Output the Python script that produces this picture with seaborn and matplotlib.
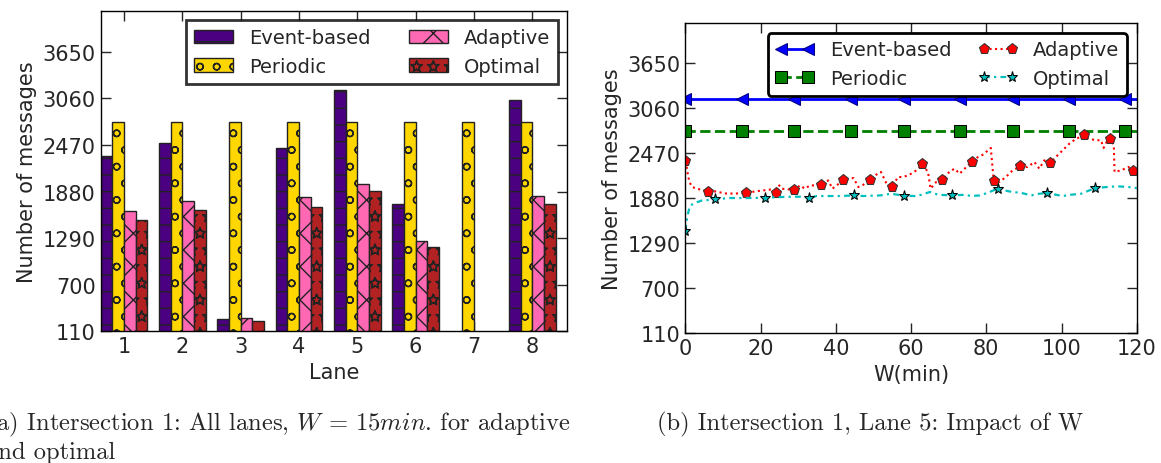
import numpy as np
import pandas as pd
import matplotlib
matplotlib.use("Agg")
import matplotlib.pyplot as plt
import matplotlib.hatch as mhatch
import seaborn as sns

# ---- data: left panel (all lanes) ----
lanes = [1, 2, 3, 4, 5, 6, 7, 8]
methods = ["Event-based", "Periodic", "Adaptive", "Optimal"]
event_lane = [2334, 2490, 262, 2431, 3170, 1726, 0, 3043]
periodic_lane = [2756, 2756, 2756, 2756, 2756, 2756, 2756, 2756]
adaptive_lane = [1638, 1760, 279, 1807, 1975, 1250, 0, 1828]
optimal_lane = [1520, 1650, 241, 1684, 1883, 1174, 0, 1718]

# ---- data: right panel (lane 5, impact of W) ----
w_flat = [0, 15, 29, 44, 58, 73, 87, 102, 117, 120]
event_w = [3170, 3170, 3170, 3170, 3170, 3170, 3170, 3170, 3170, 3170]
periodic_w = [2757, 2757, 2757, 2757, 2757, 2757, 2757, 2757, 2757, 2757]

w_adaptive = [0, 0.45, 0.7, 1.1, 1.8, 3.1, 4.9, 6.0, 8.0, 10.5, 13.0, 16.1,
              18.6, 20.8, 23.0, 24.1, 24.8, 25.6, 27.4, 29.0, 30.5, 31.8,
              33.1, 34.5, 36.1, 38.0, 39.1, 40.2, 42.0, 44.7, 46.0, 47.3,
              49.1, 50.4, 52.0, 53.5, 55.0, 56.5, 57.8, 59.2, 60.1, 61.4,
              63.0, 64.5, 65.2, 66.7, 68.1, 69.4, 70.3, 71.6, 72.9, 73.8,
              75.1, 76.1, 77.8, 79.1, 80.8, 81.2, 82.0, 83.5, 85.2, 87.0,
              89.0, 91.0, 92.8, 94.1, 95.4, 97.0, 98.5, 100.3, 102.1, 103.9,
              106.1, 107.2, 109.1, 110.5, 111.2, 112.0, 113.0, 113.9, 114.1,
              115.9, 117.8, 118.9, 120]
adaptive_w = [2360, 2264, 2176, 2090, 2024, 2002, 1980, 1955, 1967, 1940,
              1938, 1945, 1967, 1980, 1993, 1952, 2054, 2002, 1993, 1989,
              2045, 2002, 2045, 2045, 2045, 2111, 2002, 2045, 2111, 2142,
              2024, 2054, 2120, 2176, 2221, 2067, 2024, 2155, 2155, 2176,
              2200, 2241, 2320, 2221, 2002, 2090, 2111, 2176, 2229, 2264,
              2198, 2241, 2307, 2352, 2417, 2447, 2517, 2535, 2097, 2090,
              2155, 2241, 2294, 2286, 2352, 2264, 2373, 2339, 2417, 2504,
              2592, 2657, 2700, 2658, 2636, 2636, 2536, 2614, 2658, 2571,
              2221, 2243, 2286, 2238, 2256]
adaptive_marks = [0, 7, 11, 15, 19, 24, 28, 32, 36, 42, 46, 53, 58, 62, 67,
                  72, 78, 83]

w_optimal = [0, 0.45, 0.9, 1.3, 2.7, 4.4, 8.0, 11.5, 14.2, 17.7, 21.1, 25.6,
             28.3, 30.5, 33.0, 34.9, 38.0, 41.1, 44.9, 47.3, 51.8, 54.8,
             58.0, 61.0, 62.8, 65.0, 67.2, 71.0, 74.3, 76.0, 78.3, 80.4,
             83.0, 84.8, 87.0, 89.2, 91.9, 94.1, 96.1, 98.5, 100.3, 102.5,
             105.2, 107.4, 108.9, 112.0, 114.9, 117.8, 120]
optimal_w = [1455, 1608, 1717, 1783, 1818, 1848, 1861, 1880, 1880, 1880,
             1884, 1893, 1897, 1897, 1884, 1906, 1906, 1906, 1914, 1906,
             1914, 1936, 1910, 1906, 1923, 1959, 1923, 1914, 1923, 1906,
             1914, 1949, 2002, 1980, 1958, 1949, 1914, 1936, 1945, 1923,
             1906, 1923, 1936, 1980, 2010, 2024, 2033, 2024, 2010]
optimal_marks = [0, 6, 10, 14, 18, 22, 27, 32, 38, 44]

yticks = [110, 700, 1290, 1880, 2470, 3060, 3650]

sns.set_style("ticks")
plt.rcParams["font.family"] = ["DejaVu Sans"]
plt.rcParams["mathtext.fontset"] = "cm"

# hollow stars like the old hatch renderer
mhatch.Stars.filled = False

bar_colors = ["#4B0082", "#FFD700", "#FF69B4", "#B22222"]
hatches = ["-", "o", "x", "*"]

fig = plt.figure(figsize=(11.61, 4.64), dpi=100)
ax1 = fig.add_axes([0.0868, 0.2838, 0.4018, 0.691])
ax2 = fig.add_axes([0.5903, 0.2795, 0.3888, 0.6688])

bar_df = pd.DataFrame({
    "Lane": lanes * 4,
    "Messages": event_lane + periodic_lane + adaptive_lane + optimal_lane,
    "Method": np.repeat(methods, len(lanes)),
})
sns.barplot(data=bar_df, x="Lane", y="Messages", hue="Method",
            hue_order=methods, palette=bar_colors, saturation=1, width=0.8,
            edgecolor="#222222", linewidth=1, errorbar=None, legend=False,
            ax=ax1)
for cont, h in zip(ax1.containers, hatches):
    for p in cont:
        p.set_hatch(h)

ax1.set_xlim(-0.4, 7.6)
ax1.set_ylim(110, 4170)
ax1.set_yticks(yticks)
ax1.set_xlabel("Lane", fontsize=15)
ax1.set_ylabel("Number of messages", fontsize=15)
leg1 = ax1.legend(handles=list(ax1.containers), labels=methods, ncol=2,
                  loc="upper right", fontsize=14, fancybox=False,
                  borderaxespad=0.5, columnspacing=2.0)
leg1.get_frame().set_edgecolor("black")
leg1.get_frame().set_linewidth(2)

# right panel
sns.lineplot(x=w_flat, y=event_w, ax=ax2, color="blue", lw=2, marker="<",
             markersize=9, markeredgecolor="#000080", markevery=list(range(9)),
             estimator=None, sort=False, label="Event-based")
sns.lineplot(x=w_flat, y=periodic_w, ax=ax2, color="green", lw=2,
             linestyle="--", marker="s", markersize=8,
             markeredgecolor="black", markevery=list(range(9)),
             estimator=None, sort=False, label="Periodic")
sns.lineplot(x=w_adaptive, y=adaptive_w, ax=ax2, color="red", lw=1.5,
             linestyle=":", marker="p", markersize=8,
             markeredgecolor="#333333", markevery=adaptive_marks,
             estimator=None, sort=False, label="Adaptive")
sns.lineplot(x=w_optimal, y=optimal_w, ax=ax2, color="#00BFBF", lw=1.6,
             linestyle=(0, (2.6, 1.9, 1.0, 1.9)), marker="*", markersize=8,
             markeredgecolor="black", markevery=optimal_marks,
             estimator=None, sort=False, label="Optimal")

ax2.set_xlim(0, 120)
ax2.set_ylim(110, 4170)
ax2.set_yticks(yticks)
ax2.set_xticks([0, 20, 40, 60, 80, 100, 120])
ax2.set_xlabel("W(min)", fontsize=15)
ax2.set_ylabel("Number of messages", fontsize=15)
leg2 = ax2.legend(handles=ax2.get_lines()[:4], labels=methods, ncol=2,
                  loc="upper right", fontsize=14, numpoints=2,
                  borderaxespad=0.5, columnspacing=1.4)
leg2.get_frame().set_edgecolor("black")
leg2.get_frame().set_linewidth(2)
leg2.get_frame().set_alpha(1)

for ax in (ax1, ax2):
    ax.tick_params(direction="in", length=7, width=1, labelsize=15,
                   top=True, right=True)
    for s in ax.spines.values():
        s.set_linewidth(1)
        s.set_color("black")

fig.text(-0.011, 0.086, r"(a) Intersection 1: All lanes, $W$ = 15$min$. for adaptive",
         fontsize=17.7, family="cmr10", va="center")
fig.text(-0.012, 0.024, "and optimal", fontsize=17.7, family="cmr10", va="center")
fig.text(0.566, 0.086, "(b) Intersection 1, Lane 5: Impact of W",
         fontsize=17.7, family="cmr10", va="center")

fig.savefig("out.png", dpi=100)
